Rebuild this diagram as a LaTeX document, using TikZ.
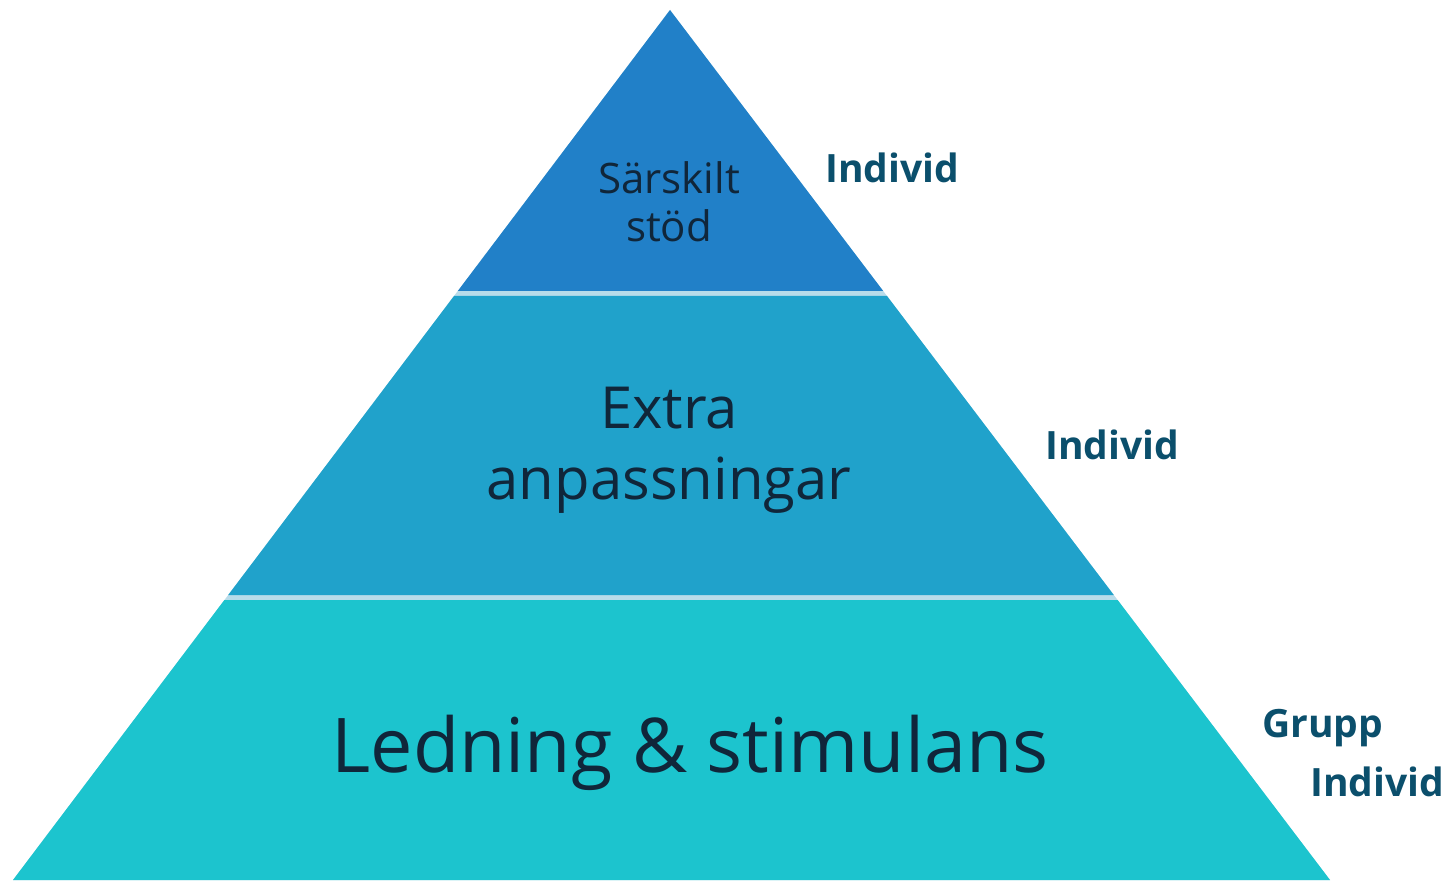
\documentclass[tikz,border=0pt]{standalone}
\usepackage{fontspec}
\setmainfont{Open Sans}
\definecolor{topband}{HTML}{2180C8}
\definecolor{midband}{HTML}{20A2CB}
\definecolor{lowband}{HTML}{1CC4CE}
\definecolor{sepcol}{HTML}{B8DCEA}
\definecolor{intxt}{HTML}{10263A}
\definecolor{sidetxt}{HTML}{0B4F6C}
\tikzset{
  band/.style={draw=none},
  intext/.style={text=intxt, align=center, inner sep=0pt},
  side/.style={text=sidetxt, font=\bfseries\fontsize{39}{44}\selectfont, anchor=west, inner sep=0pt}
}
\begin{document}
\begin{tikzpicture}[x=1pt,y=-1pt]
\useasboundingbox (0,0) rectangle (1447,882);
% whole triangle as separator colour
\fill[sepcol] (670,10) -- (1330,880) -- (13,880) -- cycle;
% bands
\fill[band,topband] (670,10) -- (883.2,291) -- (457.8,291) -- cycle;
\fill[band,midband] (454,296) -- (887,296) -- (1113.8,595) -- (228.2,595) -- cycle;
\fill[band,lowband] (224.4,600) -- (1117.6,600) -- (1330,880) -- (13,880) -- cycle;
% texts inside
\node[intext, font=\fontsize{42}{48}\selectfont] (t1) at (669,202) {Särskilt\\stöd};
\node[intext, font=\fontsize{58}{71}\selectfont] (t2) at (669,450) {Extra\\anpassningar};
\node[intext, font=\fontsize{75.5}{80}\selectfont] (t3) at (690,753) {Ledning \& stimulans};
% side labels
\node[side] (s1) at (825,168) {Individ};
\node[side] (s2) at (1045,445) {Individ};
\node[side] (s3) at (1262,728) {Grupp};
\node[side] (s4) at (1310,782) {Individ};
\end{tikzpicture}
\end{document}
